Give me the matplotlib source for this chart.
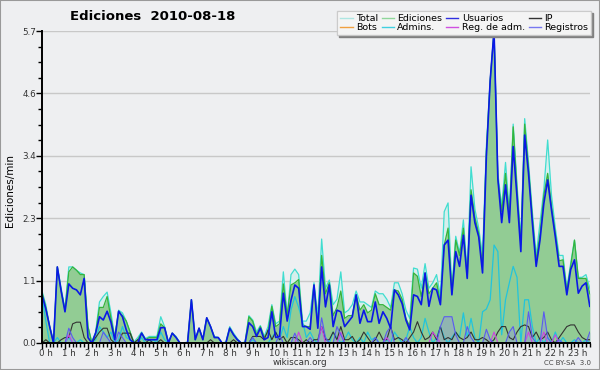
import matplotlib
matplotlib.use('Agg')
import matplotlib.pyplot as plt
import matplotlib.transforms as mtrans
from matplotlib.lines import Line2D
import numpy as np

# one value every 10 minutes, edits per minute
minutes = np.arange(144) * 10
hour_labels = ['%d h' % h for h in range(24)]
y_ticks = [0.0, 1.14, 2.28, 3.42, 4.56, 5.7]
y_labels = ['0.0', '1.1', '2.3', '3.4', '4.6', '5.7']

total = [0.95, 0.70, 0.30, 0.05, 1.39, 1.00,
         0.62, 1.39, 1.39, 1.33, 1.28, 1.25,
         0.30, 0.02, 0.20, 0.75, 0.85, 0.93,
         0.55, 0.10, 0.60, 0.55, 0.40, 0.20,
         0.02, 0.10, 0.20, 0.08, 0.12, 0.12,
         0.12, 0.48, 0.30, 0.02, 0.18, 0.12,
         0.00, 0.00, 0.02, 0.79, 0.08, 0.27,
         0.08, 0.46, 0.30, 0.12, 0.10, 0.00,
         0.02, 0.30, 0.18, 0.08, 0.00, 0.02,
         0.50, 0.42, 0.20, 0.32, 0.12, 0.30,
         0.70, 0.35, 0.40, 1.30, 0.50, 1.25,
         1.35, 1.25, 0.40, 0.40, 0.55, 1.10,
         0.50, 1.90, 1.00, 1.15, 0.70, 0.80,
         1.30, 0.55, 0.60, 0.70, 0.95, 0.75,
         0.75, 0.70, 0.65, 0.95, 0.90, 0.90,
         0.80, 0.65, 1.10, 1.10, 0.90, 0.60,
         0.45, 1.37, 1.35, 1.00, 1.45, 1.00,
         1.10, 1.25, 0.85, 2.40, 2.56, 1.00,
         1.95, 1.65, 2.25, 1.30, 3.22, 2.45,
         2.10, 1.60, 3.60, 4.80, 5.70, 3.10,
         2.50, 3.30, 2.40, 4.00, 2.90, 1.90,
         4.10, 3.30, 2.40, 1.60, 2.20, 2.80,
         3.71, 2.70, 2.10, 1.60, 1.60, 1.00,
         1.45, 1.88, 1.20, 1.20, 1.25, 1.00]

ediciones = [0.92, 0.65, 0.30, 0.00, 1.39, 0.95,
             0.60, 1.30, 1.39, 1.33, 1.25, 1.25,
             0.30, 0.00, 0.18, 0.65, 0.65, 0.85,
             0.45, 0.10, 0.58, 0.50, 0.40, 0.20,
             0.00, 0.06, 0.18, 0.06, 0.10, 0.10,
             0.10, 0.35, 0.28, 0.00, 0.18, 0.10,
             0.00, 0.00, 0.00, 0.79, 0.06, 0.27,
             0.06, 0.46, 0.30, 0.10, 0.10, 0.00,
             0.00, 0.27, 0.15, 0.06, 0.00, 0.00,
             0.48, 0.40, 0.15, 0.30, 0.10, 0.20,
             0.67, 0.30, 0.35, 1.08, 0.50, 1.06,
             1.10, 1.16, 0.34, 0.30, 0.30, 1.06,
             0.30, 1.60, 0.90, 1.10, 0.50, 0.65,
             0.95, 0.45, 0.50, 0.50, 0.88, 0.60,
             0.70, 0.55, 0.60, 0.90, 0.70, 0.70,
             0.65, 0.60, 0.97, 0.95, 0.80, 0.45,
             0.30, 1.28, 1.22, 0.85, 1.28, 0.90,
             1.00, 1.10, 0.75, 1.79, 2.10, 0.90,
             1.88, 1.60, 2.10, 1.20, 2.80, 2.30,
             2.00, 1.40, 3.50, 4.80, 5.70, 3.00,
             2.40, 3.10, 2.30, 3.95, 2.80, 1.80,
             4.00, 3.20, 2.30, 1.50, 2.00, 2.70,
             3.10, 2.50, 2.00, 1.50, 1.52, 0.95,
             1.40, 1.88, 1.18, 1.18, 1.18, 0.90]

usuarios = [0.88, 0.62, 0.30, 0.00, 1.39, 0.95,
            0.57, 1.08, 1.00, 0.97, 0.88, 1.18,
            0.10, 0.00, 0.18, 0.48, 0.42, 0.58,
            0.38, 0.06, 0.58, 0.48, 0.24, 0.06,
            0.00, 0.00, 0.18, 0.06, 0.06, 0.06,
            0.06, 0.28, 0.28, 0.00, 0.18, 0.10,
            0.00, 0.00, 0.00, 0.79, 0.06, 0.27,
            0.06, 0.46, 0.30, 0.10, 0.10, 0.00,
            0.00, 0.27, 0.15, 0.06, 0.00, 0.00,
            0.37, 0.30, 0.12, 0.27, 0.06, 0.10,
            0.57, 0.10, 0.12, 0.91, 0.40, 0.78,
            1.06, 1.00, 0.30, 0.30, 0.25, 1.06,
            0.27, 1.39, 0.66, 1.06, 0.30, 0.60,
            0.57, 0.30, 0.39, 0.48, 0.88, 0.36,
            0.60, 0.39, 0.39, 0.75, 0.36, 0.57,
            0.45, 0.27, 0.97, 0.88, 0.72, 0.42,
            0.24, 0.88, 0.85, 0.70, 1.28, 0.67,
            1.00, 0.97, 0.70, 1.79, 1.88, 0.88,
            1.67, 1.40, 1.97, 1.18, 2.70, 2.20,
            1.94, 1.28, 3.41, 4.80, 5.70, 3.00,
            2.20, 2.89, 2.20, 3.59, 2.67, 1.67,
            3.80, 3.10, 2.20, 1.40, 1.88, 2.55,
            2.98, 2.43, 1.94, 1.40, 1.40, 0.88,
            1.34, 1.52, 0.91, 1.04, 1.10, 0.67]

ip = [0.00, 0.06, 0.00, 0.00, 0.00, 0.06,
      0.10, 0.10, 0.35, 0.38, 0.38, 0.10,
      0.00, 0.00, 0.10, 0.20, 0.27, 0.27,
      0.06, 0.00, 0.00, 0.18, 0.18, 0.18,
      0.00, 0.06, 0.00, 0.00, 0.06, 0.00,
      0.00, 0.06, 0.00, 0.00, 0.00, 0.00,
      0.00, 0.00, 0.00, 0.00, 0.00, 0.00,
      0.00, 0.00, 0.06, 0.00, 0.00, 0.00,
      0.00, 0.00, 0.06, 0.00, 0.00, 0.00,
      0.00, 0.12, 0.12, 0.12, 0.06, 0.24,
      0.06, 0.20, 0.06, 0.12, 0.00, 0.10,
      0.10, 0.06, 0.00, 0.06, 0.00, 0.06,
      0.06, 0.30, 0.06, 0.06, 0.20, 0.06,
      0.30, 0.06, 0.06, 0.12, 0.00, 0.06,
      0.20, 0.10, 0.00, 0.06, 0.20, 0.06,
      0.06, 0.30, 0.06, 0.10, 0.06, 0.00,
      0.10, 0.20, 0.39, 0.20, 0.06, 0.10,
      0.20, 0.06, 0.30, 0.06, 0.10, 0.06,
      0.20, 0.10, 0.06, 0.10, 0.20, 0.06,
      0.06, 0.10, 0.06, 0.00, 0.06, 0.20,
      0.30, 0.30, 0.10, 0.06, 0.20, 0.30,
      0.33, 0.30, 0.10, 0.20, 0.06, 0.10,
      0.20, 0.06, 0.00, 0.10, 0.20, 0.30,
      0.33, 0.33, 0.20, 0.10, 0.06, 0.06]

bots = [0.0] * 144

admins = [0.85, 0.40, 0.00, 0.00, 0.10, 0.00,
          0.00, 0.10, 0.00, 0.00, 0.06, 0.00,
          0.00, 0.00, 0.06, 0.30, 0.20, 0.10,
          0.20, 0.00, 0.06, 0.30, 0.10, 0.06,
          0.00, 0.00, 0.10, 0.00, 0.00, 0.06,
          0.00, 0.20, 0.06, 0.00, 0.00, 0.00,
          0.00, 0.00, 0.00, 0.00, 0.00, 0.00,
          0.00, 0.00, 0.00, 0.00, 0.00, 0.00,
          0.00, 0.00, 0.00, 0.00, 0.00, 0.00,
          0.00, 0.06, 0.00, 0.00, 0.00, 0.00,
          0.10, 0.20, 0.06, 0.30, 0.10, 0.60,
          0.85, 0.65, 0.40, 0.10, 0.20, 0.06,
          0.00, 0.30, 0.10, 0.00, 0.20, 0.10,
          0.00, 0.06, 0.20, 0.06, 0.00, 0.10,
          0.00, 0.20, 0.06, 0.10, 0.00, 0.00,
          0.06, 0.00, 0.20, 0.10, 0.00, 0.06,
          0.30, 0.10, 0.00, 0.10, 0.45, 0.20,
          0.00, 0.10, 0.30, 0.10, 0.00, 0.10,
          0.20, 0.10, 0.55, 0.10, 0.45, 0.10,
          0.00, 0.57, 0.62, 0.79, 1.79, 1.67,
          0.15, 0.79, 1.10, 1.40, 1.20, 0.00,
          0.79, 0.79, 0.30, 0.00, 0.10, 0.00,
          0.10, 0.00, 0.20, 0.00, 0.10, 0.00,
          0.00, 0.06, 0.00, 0.00, 0.06, 0.00]

reg_adm = [0.0] * 144
for i, v in [(7, 0.15), (67, 0.2), (73, 0.3), (78, 0.2), (90, 0.1), (102, 0.2),
             (103, 0.1), (118, 0.2), (127, 0.2), (131, 0.2), (134, 0.15)]:
    reg_adm[i] = v

registros = [0.0] * 144
for i, v in [(7, 0.27), (8, 0.1), (16, 0.2), (17, 0.1), (20, 0.2), (21, 0.1),
             (55, 0.1), (62, 0.15), (66, 0.18), (70, 0.1), (73, 0.46), (74, 0.1),
             (77, 0.3), (78, 0.15), (87, 0.1), (90, 0.2), (91, 0.3), (95, 0.1),
             (104, 0.3), (105, 0.48), (106, 0.48), (107, 0.48), (108, 0.15),
             (111, 0.3), (112, 0.1), (116, 0.25), (117, 0.06), (122, 0.2),
             (123, 0.3), (127, 0.57), (128, 0.1), (131, 0.57), (132, 0.1),
             (135, 0.06), (140, 0.1), (143, 0.2)]:
    registros[i] = v

bg = '#eeeff1'
fig = plt.figure(figsize=(6, 3.7), dpi=100, facecolor=bg)
ax = fig.add_axes([0.07, 0.073, 0.913, 0.843])
ax.set_facecolor(bg)

ax.fill_between(minutes, total, color='#d6efec', lw=0, zorder=1)
ax.fill_between(minutes, ediciones, color='#92cc94', lw=0, zorder=2)
ax.fill_between(minutes, registros, color='#8f9fcf', alpha=0.5, lw=0, zorder=2)
ax.plot(minutes, total, color='#40ddd0', lw=0.9, zorder=3)
ax.plot(minutes, ediciones, color='#36b43a', lw=0.9, zorder=4)
ax.plot(minutes, bots, color='#f0a040', lw=0.8, zorder=4)
ax.plot(minutes, admins, color='#22c4dc', lw=0.9, zorder=5)
ax.plot(minutes, ip, color='#333333', lw=0.8, zorder=5)
ax.plot(minutes, reg_adm, color='#cc44e0', lw=0.8, zorder=5)
ax.plot(minutes, registros, color='#5a5af0', lw=0.8, zorder=5)
ax.plot(minutes, usuarios, color='#0a18e6', lw=1.2, zorder=6)

ax.set_xlim(0, 1430)
ax.set_ylim(0, 5.7)
ax.set_yticks(y_ticks)
ax.set_yticklabels(y_labels)
ax.set_yticks(np.linspace(0, 5.7, 21), minor=True)
ax.set_xticks(minutes[::6])
ax.set_xticklabels(hour_labels)
ax.set_xticks(minutes, minor=True)
ax.grid(axis='y', color='#c8c8c8', lw=1, zorder=0)
ax.set_axisbelow(True)

for s in ['top', 'right']:
    ax.spines[s].set_visible(False)
for s in ['left', 'bottom']:
    ax.spines[s].set_linewidth(1.4)
    ax.spines[s].set_zorder(7)
ax.tick_params(axis='both', which='major', length=4, width=1, labelsize=6.3,
               colors='black', labelcolor='#333333', pad=0.5)
ax.tick_params(axis='both', which='minor', length=3, width=1)
off = mtrans.ScaledTranslation(-3 / 100, 0, fig.dpi_scale_trans)
for lab in ax.get_xticklabels():
    lab.set_horizontalalignment('left')
    lab.set_transform(lab.get_transform() + off)

fig.text(0.255, 0.955, 'Ediciones  2010-08-18', ha='center', va='center',
         fontsize=9.5, fontweight='bold')
fig.text(0.017, 0.486, 'Ediciones/min', rotation=90, ha='center', va='center', fontsize=7.5)
fig.text(0.5, 0.02, 'wikiscan.org', ha='center', va='center', fontsize=6.3, color='#333333')
fig.text(0.985, 0.02, 'CC BY-SA  3.0', ha='right', va='center', fontsize=5, color='#444444')

names = ['Total', 'Bots', 'Ediciones', 'Admins.', 'Usuarios', 'Reg. de adm.', 'IP', 'Registros']
colors = ['#aee6e2', '#f0a040', '#8fd69a', '#40d0e0', '#3030e0', '#d050e0', '#333333', '#7878f0']
handles = [Line2D([], [], color=c, lw=1) for c in colors]
leg = fig.legend(handles, names, ncol=4, loc='upper right', bbox_to_anchor=(0.985, 0.97),
                 fontsize=6.8, frameon=True, fancybox=False, framealpha=0.92,
                 edgecolor='#c8c8c8', facecolor='white', handlelength=1.3,
                 handletextpad=0.35, columnspacing=0.4, labelspacing=0.0,
                 borderpad=0.3, borderaxespad=0,
                 shadow={'color': '#808080', 'alpha': 1, 'ox': 1.5, 'oy': -1.5})
leg.set_zorder(10)

border = plt.Rectangle((0, 0), 1, 1, transform=fig.transFigure, fill=False,
                       edgecolor='#999999', lw=1.5)
fig.patches.append(border)

fig.savefig('out.png', dpi=100, facecolor=bg)
